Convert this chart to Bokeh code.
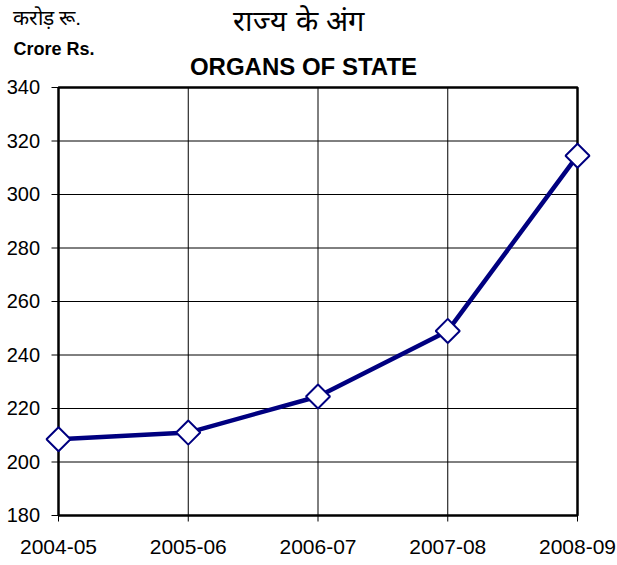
import math
from bokeh.plotting import figure
from bokeh.models import Range1d
from bokeh.core.properties import value
from bokeh.embed import file_html
from bokeh.resources import INLINE

years = ["2004-05", "2005-06", "2006-07", "2007-08", "2008-09"]
values = [208.5, 211.0, 224.5, 249.0, 314.5]
y_ticks = [180, 200, 220, 240, 260, 280, 300, 320, 340]
y_tick_labels = [str(t) for t in y_ticks]

xs = list(range(len(years)))
Y0, Y1 = y_ticks[0], y_ticks[-1]
X0, X1 = 0, len(years) - 1

# page geometry (pixels) of the plot area inside the canvas
W, H = 617, 565
PL, PR, PT, PB = 58, 577, 87, 515
SX = (PR - PL) / (X1 - X0)   # px per x unit
SY = (PB - PT) / (Y1 - Y0)   # px per y unit
BASE_FIX = 0.38              # svg text sits lower than the requested baseline


def dx(px):
    return X0 + (px - PL) / SX


def dy(py):
    return Y0 + (PB - py) / SY


p = figure(width=W, height=H, output_backend="svg", toolbar_location=None,
           x_range=Range1d(dx(0), dx(W)), y_range=Range1d(dy(H), dy(0)),
           x_axis_location=None, y_axis_location=None,
           min_border=0, min_border_left=0, min_border_right=0,
           min_border_top=0, min_border_bottom=0)
p.background_fill_color = "white"
p.border_fill_color = "white"
p.outline_line_color = None
p.grid.grid_line_color = None

FONT = "Liberation Sans"
n_y = len(y_ticks)

# grid lines
p.segment(x0=[X0] * n_y, y0=y_ticks, x1=[X1] * n_y, y1=y_ticks, line_color="black", line_width=1)
p.segment(x0=xs, y0=[Y0] * len(xs), x1=xs, y1=[Y1] * len(xs), line_color="black", line_width=1)
# tick marks outside the plot area
p.segment(x0=[X0 - 7 / SX] * n_y, y0=y_ticks, x1=[X0] * n_y, y1=y_ticks,
          line_color="black", line_width=1)
p.segment(x0=xs, y0=[Y0] * len(xs), x1=xs, y1=[Y0 - 6 / SY] * len(xs),
          line_color="black", line_width=1)
# plot-area border
p.line([X0, X1, X1, X0, X0], [Y0, Y0, Y1, Y1, Y0], line_color="black", line_width=2.5)

# tick labels
p.text(x=[X0 - 18.5 / SX] * n_y, y=[t - (7.5 - BASE_FIX * 20) / SY for t in y_ticks],
       text=y_tick_labels, text_font=value(FONT), text_font_size="20px", text_color="black",
       text_align="right", text_baseline="alphabetic")
p.text(x=xs, y=[dy(554 - BASE_FIX * 21)] * len(xs), text=years,
       text_font=value(FONT), text_font_size="21px", text_color="black",
       text_align="center", text_baseline="alphabetic")

# data
p.line(xs, values, line_color="#000080", line_width=4.5)
p.scatter(xs, values, marker="square", angle=math.pi / 4, size=17, fill_color="white",
          line_color="#000080", line_width=2)

# titles


def lab(x, y, text, size, bold=False, align="left"):
    p.text(x=[dx(x)], y=[dy(y - BASE_FIX * size)], text=[text], text_font=value(FONT),
           text_font_size=f"{size}px", text_font_style="bold" if bold else "normal",
           text_color="black", text_align=align, text_baseline="alphabetic")


lab(12, 25, "करोड़ रू.", 21)
lab(13, 55, "Crore Rs.", 18, bold=True)
lab(298, 32, "राज्य के अंग", 29, align="center")
lab(303, 75, "ORGANS OF STATE", 24, bold=True, align="center")

open("out.html", "w").write(file_html(p, INLINE))
